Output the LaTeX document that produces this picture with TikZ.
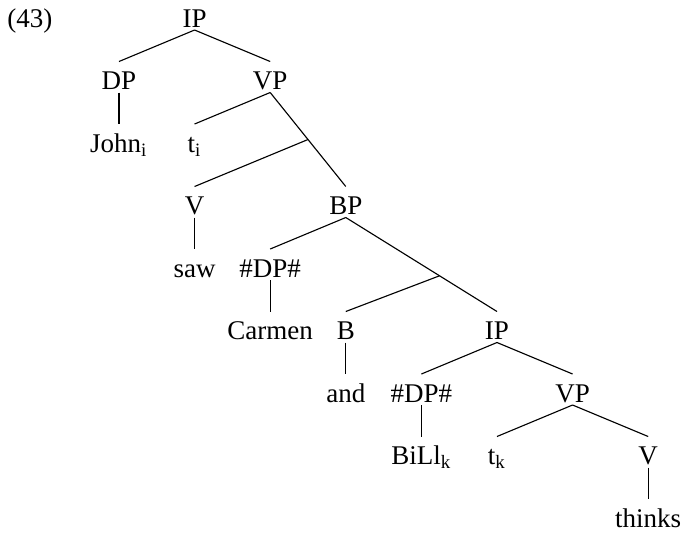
\documentclass[tikz,border=0pt]{standalone}
\usepackage{fontspec}
\setmainfont{Liberation Serif}
\usetikzlibrary{calc}
\tikzset{
  cat/.style={inner sep=0pt,anchor=base,text height=11pt,text depth=1pt,font=\fontsize{10.8}{13}\selectfont},
  branch/.style={draw=black,line width=0.45pt}
}

\begin{document}
\begin{tikzpicture}[x=30.24pt,y=-25pt]
  \useasboundingbox (-1.574,-0.432) rectangle (7.487,8.08);
  \node (exnum) [cat] at (-1.18,0) {(43)};

  % upper clause
  \node (ipA) [cat] at (1,0) {IP};
  \node (dpA) [cat] at (0,1) {DP};
  \node (vpA) [cat] at (2,1) {VP};
  \node (john) [cat] at (0,2) {John\textsubscript{i}};
  \node (ti) [cat] at (1,2) {t\textsubscript{i}};
  \node (vA) [cat] at (1,3) {V};
  \node (bp) [cat] at (3,3) {BP};
  \node (saw) [cat] at (1,4) {saw};
  \node (dpB) [cat] at (2,4) {\#DP\#};
  \node (carmen) [cat] at (2,5) {Carmen};
  \node (b) [cat] at (3,5) {B};
  \node (ipB) [cat] at (5,5) {IP};

  % lower clause
  \node (and) [cat] at (3,6) {and};
  \node (dpC) [cat] at (4,6) {\#DP\#};
  \node (vpB) [cat] at (6,6) {VP};
  \node (bill) [cat] at (4,7) {BiLl\textsubscript{k}};
  \node (tk) [cat] at (5,7) {t\textsubscript{k}};
  \node (vB) [cat] at (7,7) {V};
  \node (thinks) [cat] at (7,8) {thinks};

  \coordinate (vbar) at ($(vpA.south)!0.5!(bp.north)$);
  \coordinate (bbar) at ($(bp.south)!0.62!(ipB.north)$);

  \draw[branch] (ipA.south) -- (dpA.north);
  \draw[branch] (ipA.south) -- (vpA.north);
  \draw[branch] (dpA.south) -- (dpA.south |- john.north);
  \draw[branch] (vpA.south) -- (ti.north);
  \draw[branch] (vpA.south) -- (vbar) -- (bp.north);
  \draw[branch] (vbar) -- (vA.north);
  \draw[branch] (vA.south) -- (vA.south |- saw.north);
  \draw[branch] (bp.south) -- (dpB.north);
  \draw[branch] (bp.south) -- (bbar) -- (ipB.north);
  \draw[branch] (bbar) -- (b.north);
  \draw[branch] (dpB.south) -- (dpB.south |- carmen.north);
  \draw[branch] (b.south) -- (b.south |- and.north);
  \draw[branch] (ipB.south) -- (dpC.north);
  \draw[branch] (ipB.south) -- (vpB.north);
  \draw[branch] (dpC.south) -- (dpC.south |- bill.north);
  \draw[branch] (vpB.south) -- (tk.north);
  \draw[branch] (vpB.south) -- (vB.north);
  \draw[branch] (vB.south) -- (vB.south |- thinks.north);
\end{tikzpicture}
\end{document}
